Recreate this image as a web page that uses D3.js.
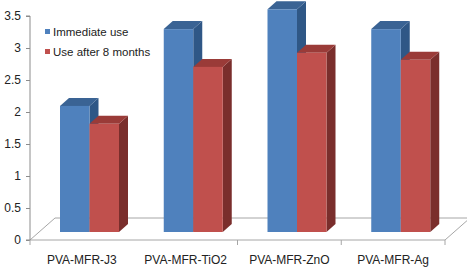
<!DOCTYPE html>
<html><head><meta charset="utf-8">
<script src="https://cdn.jsdelivr.net/npm/d3@7/dist/d3.min.js"></script>
<style>body{margin:0;background:#fff}svg{display:block}</style>
</head><body>
<svg id="c" width="467" height="270"></svg>
<script>
const categories = ["PVA-MFR-J3", "PVA-MFR-TiO2", "PVA-MFR-ZnO", "PVA-MFR-Ag"];
const seriesNames = ["Immediate use", "Use after 8 months"];
const immediateUse = [1.97, 3.17, 3.48, 3.17];
const after8Months = [1.69, 2.58, 2.80, 2.69];
const yTicks = [0, 0.5, 1, 1.5, 2, 2.5, 3, 3.5];
const yTickLabels = ["0", "0.5", "1", "1.5", "2", "2.5", "3", "3.5"];

const svg = d3.select("#c");
const font = "Arial, 'Liberation Sans', sans-serif";
const colors = [
  {front: "#4F81BD", side: "#2F5786", top: "#3A6394"},
  {front: "#C0504D", side: "#7A2E2C", top: "#9A3B38"}
];
const x0 = 30, x1 = 445, yBase = 240, yTop = 16;
const floorDx = 25, floorDy = -22;
const barDx = 9, barDy = -8;
const barBaseShift = -8;

const y = d3.scaleLinear().domain([0, 3.5]).range([yBase, yTop]);
const x = d3.scaleBand().domain(categories).range([x0, x1]);
const xs = d3.scaleBand().domain([0, 1]).range([0, 59]);

// floor
const grey = "#8c8c8c";
svg.append("path")
  .attr("d", `M${x0},${yBase} L${x1},${yBase} L${x1+floorDx},${yBase+floorDy} M${x0},${yBase} L${x0+floorDx},${yBase+floorDy} L${x1+floorDx},${yBase+floorDy}`)
  .attr("fill", "none").attr("stroke", "#a6a6a6").attr("stroke-width", 1);

// y axis
const yAxis = d3.axisLeft(y).tickValues(yTicks).tickFormat((d, i) => yTickLabels[i]).tickSize(4).tickPadding(5);
const ga = svg.append("g").attr("transform", `translate(${x0},0)`).call(yAxis);
ga.select(".domain").attr("stroke", grey).attr("d", `M-4,${yTop}H0V${yBase}H-4`);
ga.selectAll(".tick line").attr("stroke", grey);
ga.selectAll(".tick text").attr("font-family", font).attr("font-size", 12).attr("fill", "#222");

// x axis ticks
svg.append("g").selectAll("line").data([0, 2, 3, 4]).join("line")
  .attr("x1", i => x0 + i * x.bandwidth()).attr("x2", i => x0 + i * x.bandwidth())
  .attr("y1", yBase).attr("y2", yBase + 5).attr("stroke", "#a6a6a6");
svg.append("g").selectAll("text").data(categories).join("text")
  .attr("x", d => x(d) + x.bandwidth() / 2 + 0)
  .attr("y", 264)
  .attr("text-anchor", "middle")
  .attr("font-family", font).attr("font-size", 12).attr("fill", "#222")
  .text(d => d);

// bars
const data = [];
categories.forEach((c, i) => {
  data.push({c, s: 0, v: immediateUse[i]});
  data.push({c, s: 1, v: after8Months[i]});
});
const gb = svg.append("g");
data.forEach(d => {
  const left = x(d.c) + 30 + xs(d.s);
  const w = xs.bandwidth();
  const yb = y(0) + barBaseShift;
  const yt = y(d.v) + barBaseShift;
  const col = colors[d.s];
  const g = gb.append("g");
  g.append("path").attr("d", `M${left+w},${yt} L${left+w+barDx},${yt+barDy} L${left+w+barDx},${yb+barDy} L${left+w},${yb} Z`).attr("fill", col.side);
  g.append("path").attr("d", `M${left},${yt} L${left+barDx},${yt+barDy} L${left+w+barDx},${yt+barDy} L${left+w},${yt} Z`).attr("fill", col.top);
  g.append("rect").attr("x", left).attr("y", yt).attr("width", w).attr("height", yb - yt).attr("fill", col.front);
});

// legend
const lg = svg.append("g");
seriesNames.forEach((n, i) => {
  const ly = 32 + i * 20;
  lg.append("rect").attr("x", 45).attr("y", ly - 3).attr("width", 5).attr("height", 5).attr("fill", colors[i].front);
  lg.append("text").attr("x", 53).attr("y", ly + 4).attr("font-family", font).attr("font-size", 11.5).attr("fill", "#222").text(n);
});
</script>
</body></html>
